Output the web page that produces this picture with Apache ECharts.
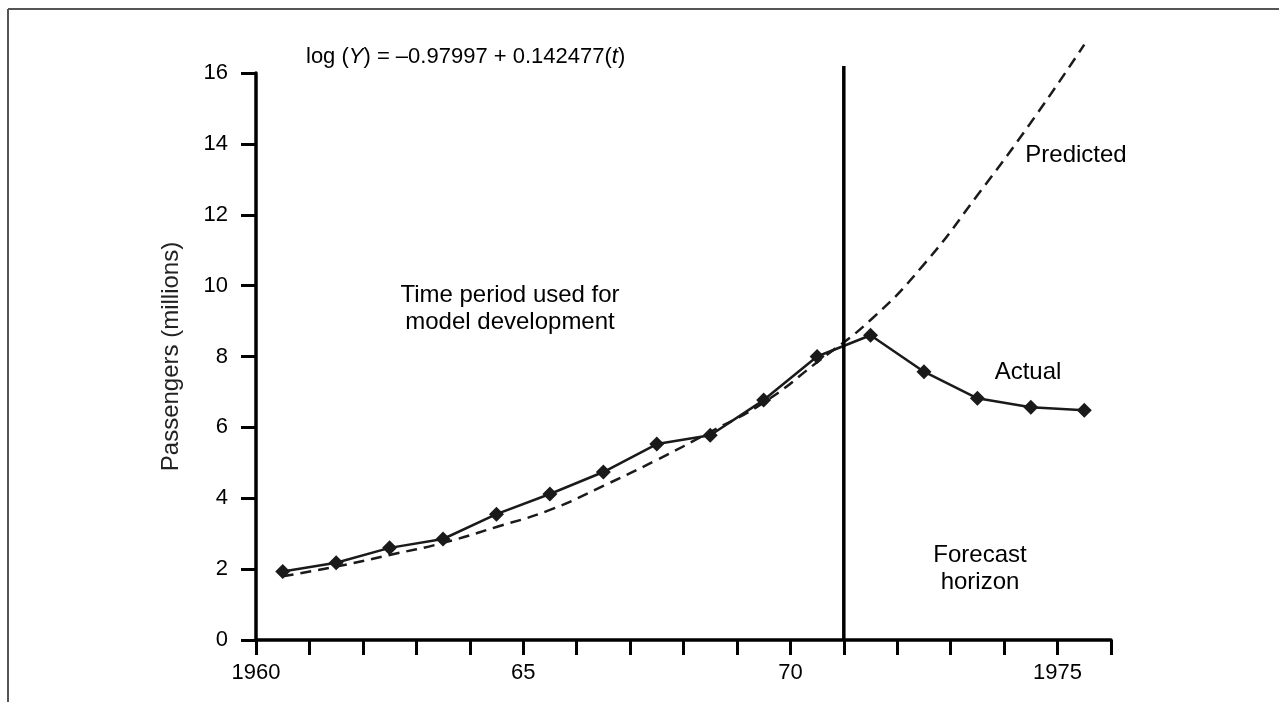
<!DOCTYPE html>
<html>
<head>
<meta charset="utf-8">
<script src="https://cdn.jsdelivr.net/npm/echarts@6/dist/echarts.min.js"></script>
<style>
  html, body { margin: 0; padding: 0; background: #fff; }
  #chart { width: 1279px; height: 702px; }
</style>
</head>
<body>
<div id="chart"></div>
<script>
  // years (mid-year points)
  var years = [1960.5, 1961.5, 1962.5, 1963.5, 1964.5, 1965.5, 1966.5, 1967.5,
               1968.5, 1969.5, 1970.5, 1971.5, 1972.5, 1973.5, 1974.5, 1975.5]
  // actual passengers (millions)
  var actual = [1.93, 2.18, 2.6, 2.85, 3.55, 4.12, 4.74, 5.53,
                5.78, 6.77, 8.0, 8.6, 7.57, 6.82, 6.57, 6.48]
  // predicted by the regression model
  var predicted = [1.8, 2.07, 2.4, 2.74, 3.19, 3.67, 4.35, 5.08,
                   5.87, 6.7, 7.84, 9.03, 10.6, 12.55, 14.6, 16.8]
  // forecast horizon split
  var horizonYear = 1971
  var horizonTop = 16.2
  // tick labels on x axis
  var xTickLabels = { 1960: '1960', 1965: '65', 1970: '70', 1975: '1975' }

  var font = '"Liberation Sans", Arial, sans-serif'
  var ink = '#1a1a1a'

  function pairs(xs, ys) {
    return xs.map(function (x, i) { return [x, ys[i]] })
  }

  var chart = echarts.init(document.getElementById('chart'))
  var option = {
    animation: false,
    backgroundColor: '#fff',
    textStyle: { fontFamily: font },
    grid: { left: 256, right: 168, top: 73, bottom: 62 },
    xAxis: {
      type: 'value',
      min: 1960,
      max: 1976,
      interval: 1,
      splitLine: { show: false },
      axisLine: { lineStyle: { color: '#000', width: 3.5 } },
      axisTick: { length: 15, lineStyle: { color: '#000', width: 3 } },
      axisLabel: {
        fontSize: 22, color: '#000', margin: 22, fontFamily: font,
        formatter: function (v) { return xTickLabels[v] || '' }
      }
    },
    yAxis: {
      type: 'value',
      min: 0,
      max: 16,
      interval: 2,
      name: 'Passengers (millions)',
      nameLocation: 'middle',
      nameGap: 73,
      nameTextStyle: { fontSize: 24, color: '#222', fontFamily: font },
      splitLine: { show: false },
      axisLine: { show: true, lineStyle: { color: '#000', width: 3.5 } },
      axisTick: { show: true, length: 15, lineStyle: { color: '#000', width: 3 } },
      axisLabel: { fontSize: 22, color: '#000', margin: 28, fontFamily: font }
    },
    series: [
      {
        name: 'Predicted',
        type: 'line',
        data: pairs(years, predicted),
        smooth: true,
        clip: false,
        showSymbol: false,
        lineStyle: { color: ink, width: 2.5, type: [11, 7] }
      },
      {
        name: 'Actual',
        type: 'line',
        data: pairs(years, actual),
        symbol: 'diamond',
        symbolSize: 15,
        itemStyle: { color: ink },
        lineStyle: { color: ink, width: 2.5 }
      },
      {
        name: 'Horizon',
        type: 'line',
        data: [[horizonYear, 0], [horizonYear, horizonTop]],
        clip: false,
        showSymbol: false,
        lineStyle: { color: '#000', width: 3.5 }
      }
    ],
    graphic: [
      { type: 'line', shape: { x1: 8, y1: 9, x2: 1279, y2: 9 }, style: { stroke: '#555', lineWidth: 2 } },
      { type: 'line', shape: { x1: 8, y1: 9, x2: 8, y2: 702 }, style: { stroke: '#555', lineWidth: 2 } },
      {
        type: 'text', left: 306, top: 46,
        style: {
          text: 'log ({i|Y}) = \u20130.97997 + 0.142477({i|t})',
          font: '22px ' + font, fill: '#000',
          rich: { i: { fontStyle: 'italic', fontSize: 22, fontFamily: font } }
        }
      },
      {
        type: 'text', x: 510, y: 309,
        style: {
          text: 'Time period used for\nmodel development', font: '24px ' + font, fill: '#000',
          align: 'center', verticalAlign: 'middle', lineHeight: 27
        }
      },
      {
        type: 'text', x: 1076, y: 155,
        style: { text: 'Predicted', font: '24px ' + font, fill: '#000', align: 'center', verticalAlign: 'middle' }
      },
      {
        type: 'text', x: 1028, y: 372,
        style: { text: 'Actual', font: '24px ' + font, fill: '#000', align: 'center', verticalAlign: 'middle' }
      },
      {
        type: 'text', x: 980, y: 569,
        style: {
          text: 'Forecast\nhorizon', font: '24px ' + font, fill: '#000',
          align: 'center', verticalAlign: 'middle', lineHeight: 27
        }
      }
    ]
  }
  chart.setOption(option)
</script>
</body>
</html>
